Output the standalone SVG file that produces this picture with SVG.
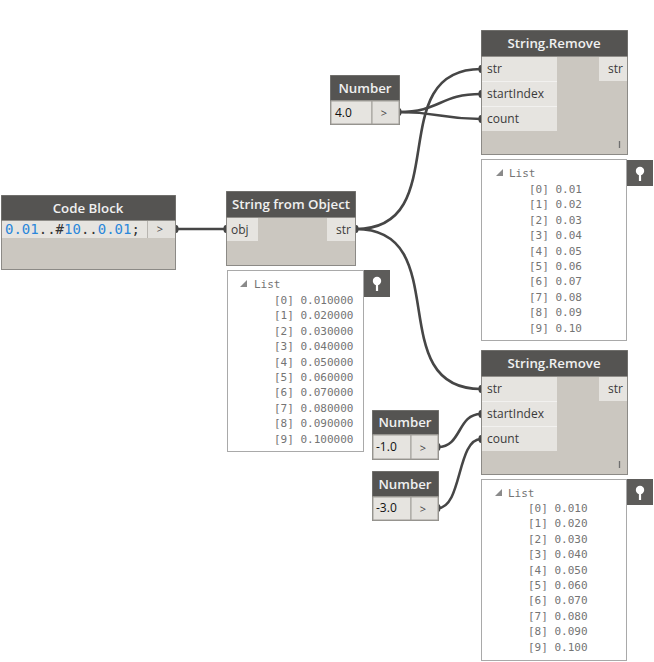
<svg xmlns="http://www.w3.org/2000/svg" width="654" height="662" viewBox="0 0 654 662">
<defs>
<style>
.hdr{fill:#555452;}
.body{fill:#cbc7c0;stroke:#8c8a86;stroke-width:1;}
.port{fill:#e6e4e0;}
.sep{stroke:#f2f1ef;stroke-width:1;}
.title{font-family:"Open Sans","Noto Sans",sans-serif;font-weight:600;font-size:13.3px;fill:#f0f0f0;text-anchor:middle;}
.plbl{font-family:"Open Sans","Noto Sans",sans-serif;font-size:12px;fill:#3a3a3a;}
.val{font-family:"Open Sans","Noto Sans",sans-serif;font-size:12px;fill:#111;}
.arr{font-family:"Open Sans","Noto Sans",sans-serif;font-size:11px;fill:#444;text-anchor:middle;}
.wire{fill:none;stroke:#464646;stroke-width:2.6;}
.dot{fill:#464646;}
.list{fill:#ffffff;stroke:#a9a9a9;stroke-width:1;}
.ltxt{font-family:"DejaVu Sans Mono","Liberation Mono",monospace;font-size:11px;fill:#747474;}
.pin{fill:#5d5c5a;}
.code{font-family:"DejaVu Sans Mono","Liberation Mono",monospace;font-size:14px;}
.num{fill:#2b87da;}
.op{fill:#333333;}
.mark{stroke:#6f6f6f;stroke-width:1.3;}
</style>
<g id="pinicon">
<circle cx="0" cy="0" r="4.2" fill="#ffffff"/>
<rect x="-1.1" y="2" width="2.2" height="8" fill="#ffffff"/>
</g>
</defs>

<g id="connectors">
<path class="wire" d="M175,229 L226,229"/>
<path class="wire" d="M356,229 C456,229 381,69 481,69"/>
<path class="wire" d="M356,229 C456,229 381,389 481,389"/>
<path class="wire" d="M399,112 C440,112 440,94 481,94"/>
<path class="wire" d="M399,112 C440,112 440,119 481,119"/>
<path class="wire" d="M438,447 C462,447 457,414 481,414"/>
<path class="wire" d="M438,508 C462,508 457,439 481,439"/>
<ellipse class="dot" cx="176" cy="229" rx="2.6" ry="4"/>
<ellipse class="dot" cx="226" cy="229" rx="2.6" ry="4"/>
<ellipse class="dot" cx="356" cy="229" rx="2.6" ry="4"/>
<ellipse class="dot" cx="481" cy="69" rx="2.6" ry="4"/>
<ellipse class="dot" cx="481" cy="94" rx="2.6" ry="4"/>
<ellipse class="dot" cx="481" cy="119" rx="2.6" ry="4"/>
<ellipse class="dot" cx="399" cy="112" rx="2.6" ry="4"/>
<ellipse class="dot" cx="481" cy="389" rx="2.6" ry="4"/>
<ellipse class="dot" cx="481" cy="414" rx="2.6" ry="4"/>
<ellipse class="dot" cx="481" cy="439" rx="2.6" ry="4"/>
<ellipse class="dot" cx="438" cy="447" rx="2.6" ry="4"/>
<ellipse class="dot" cx="438" cy="508" rx="2.6" ry="4"/>
</g>

<g id="code-block">
<rect class="body" x="1.5" y="195.5" width="174" height="74"/>
<rect class="hdr" x="1.5" y="195.5" width="174" height="25"/>
<text class="title" x="88" y="213">Code Block</text>
<rect class="port" x="2" y="221" width="145" height="17"/>
<rect x="148" y="221" width="27" height="17" fill="#e3e1dd"/>
<line x1="147.5" y1="221" x2="147.5" y2="238" stroke="#b8b5b0"/>
<text class="code" x="5" y="234"><tspan class="num">0.01</tspan><tspan class="op">..#</tspan><tspan class="num">10</tspan><tspan class="op">..</tspan><tspan class="num">0.01</tspan><tspan class="op">;</tspan></text>
<text class="arr" x="160" y="233">&gt;</text>
</g>

<g id="string-from-object">
<rect class="body" x="226.5" y="191.5" width="129" height="74"/>
<rect class="hdr" x="226.5" y="191.5" width="129" height="26"/>
<text class="title" x="291" y="209">String from Object</text>
<rect class="port" x="227" y="218" width="31" height="23"/>
<rect class="port" x="327" y="218" width="28" height="23"/>
<text class="plbl" x="231" y="234">obj</text>
<text class="plbl" x="351" y="234" text-anchor="end">str</text>
</g>

<g id="watch-sfo">
<rect class="list" x="227.5" y="270.5" width="136" height="181"/>
<rect class="pin" x="364" y="270" width="26" height="27"/>
<use href="#pinicon" x="377" y="281"/>
<polygon points="247,280 247,287 240,287" fill="#8a8a8a"/>
<text class="ltxt" x="254" y="288">List</text>
<text class="ltxt" x="274" y="304">[0] 0.010000</text>
<text class="ltxt" x="274" y="319.4">[1] 0.020000</text>
<text class="ltxt" x="274" y="334.8">[2] 0.030000</text>
<text class="ltxt" x="274" y="350.2">[3] 0.040000</text>
<text class="ltxt" x="274" y="365.6">[4] 0.050000</text>
<text class="ltxt" x="274" y="381">[5] 0.060000</text>
<text class="ltxt" x="274" y="396.4">[6] 0.070000</text>
<text class="ltxt" x="274" y="411.8">[7] 0.080000</text>
<text class="ltxt" x="274" y="427.2">[8] 0.090000</text>
<text class="ltxt" x="274" y="442.6">[9] 0.100000</text>
</g>

<g id="number-4">
<rect class="body" x="330.5" y="75.5" width="69" height="49"/>
<rect class="hdr" x="330.5" y="75.5" width="69" height="25"/>
<text class="title" x="365" y="93">Number</text>
<rect x="331" y="101" width="41" height="23" fill="#e6e4e0" stroke="#a09d98" stroke-width="1"/>
<rect x="372" y="101" width="27" height="23" fill="#e3e1dd" stroke="#a09d98" stroke-width="1"/>
<text class="val" x="335" y="117">4.0</text>
<text class="arr" x="384" y="117">&gt;</text>
</g>

<g id="string-remove-1">
<rect class="body" x="481.5" y="30.5" width="146" height="124"/>
<rect class="hdr" x="481.5" y="30.5" width="146" height="26"/>
<text class="title" x="554" y="48">String.Remove</text>
<rect class="port" x="482" y="57" width="75" height="74"/>
<line class="sep" x1="482" y1="81.5" x2="557" y2="81.5"/>
<line class="sep" x1="482" y1="106.5" x2="557" y2="106.5"/>
<rect class="port" x="599" y="57" width="28" height="24"/>
<text class="plbl" x="487" y="73">str</text>
<text class="plbl" x="487" y="98">startIndex</text>
<text class="plbl" x="487" y="123">count</text>
<text class="plbl" x="623" y="73" text-anchor="end">str</text>
<line class="mark" x1="619.5" y1="141" x2="619.5" y2="148"/>
</g>

<g id="watch-sr1">
<rect class="list" x="481.5" y="159.5" width="145" height="181"/>
<rect class="pin" x="627" y="160" width="26" height="26"/>
<use href="#pinicon" x="640" y="171"/>
<polygon points="503,169 503,176 496,176" fill="#8a8a8a"/>
<text class="ltxt" x="509" y="177">List</text>
<text class="ltxt" x="529" y="193">[0] 0.01</text>
<text class="ltxt" x="529" y="208.4">[1] 0.02</text>
<text class="ltxt" x="529" y="223.8">[2] 0.03</text>
<text class="ltxt" x="529" y="239.2">[3] 0.04</text>
<text class="ltxt" x="529" y="254.6">[4] 0.05</text>
<text class="ltxt" x="529" y="270">[5] 0.06</text>
<text class="ltxt" x="529" y="285.4">[6] 0.07</text>
<text class="ltxt" x="529" y="300.8">[7] 0.08</text>
<text class="ltxt" x="529" y="316.2">[8] 0.09</text>
<text class="ltxt" x="529" y="331.6">[9] 0.10</text>
</g>

<g id="string-remove-2">
<rect class="body" x="481.5" y="350.5" width="146" height="124"/>
<rect class="hdr" x="481.5" y="350.5" width="146" height="26"/>
<text class="title" x="554" y="368">String.Remove</text>
<rect class="port" x="482" y="377" width="75" height="74"/>
<line class="sep" x1="482" y1="401.5" x2="557" y2="401.5"/>
<line class="sep" x1="482" y1="426.5" x2="557" y2="426.5"/>
<rect class="port" x="599" y="377" width="28" height="24"/>
<text class="plbl" x="487" y="393">str</text>
<text class="plbl" x="487" y="418">startIndex</text>
<text class="plbl" x="487" y="443">count</text>
<text class="plbl" x="623" y="393" text-anchor="end">str</text>
<line class="mark" x1="619.5" y1="461" x2="619.5" y2="468"/>
</g>

<g id="number-neg1">
<rect class="body" x="372.5" y="410.5" width="66" height="49"/>
<rect class="hdr" x="372.5" y="410.5" width="66" height="24"/>
<text class="title" x="405" y="427">Number</text>
<rect x="373" y="435" width="38" height="24" fill="#e6e4e0" stroke="#a09d98" stroke-width="1"/>
<rect x="411" y="435" width="27" height="24" fill="#e3e1dd" stroke="#a09d98" stroke-width="1"/>
<text class="val" x="376" y="451">-1.0</text>
<text class="arr" x="423" y="452">&gt;</text>
</g>

<g id="number-neg3">
<rect class="body" x="372.5" y="471.5" width="66" height="49"/>
<rect class="hdr" x="372.5" y="471.5" width="66" height="25"/>
<text class="title" x="405" y="489">Number</text>
<rect x="373" y="497" width="38" height="23" fill="#e6e4e0" stroke="#a09d98" stroke-width="1"/>
<rect x="411" y="497" width="27" height="23" fill="#e3e1dd" stroke="#a09d98" stroke-width="1"/>
<text class="val" x="376" y="512">-3.0</text>
<text class="arr" x="423" y="513">&gt;</text>
</g>

<g id="watch-sr2">
<rect class="list" x="481.5" y="479.5" width="145" height="181"/>
<rect class="pin" x="627" y="479" width="26" height="26"/>
<use href="#pinicon" x="640" y="490"/>
<polygon points="502,489 502,496 495,496" fill="#8a8a8a"/>
<text class="ltxt" x="508" y="497">List</text>
<text class="ltxt" x="528" y="512">[0] 0.010</text>
<text class="ltxt" x="528" y="527.4">[1] 0.020</text>
<text class="ltxt" x="528" y="542.8">[2] 0.030</text>
<text class="ltxt" x="528" y="558.2">[3] 0.040</text>
<text class="ltxt" x="528" y="573.6">[4] 0.050</text>
<text class="ltxt" x="528" y="589">[5] 0.060</text>
<text class="ltxt" x="528" y="604.4">[6] 0.070</text>
<text class="ltxt" x="528" y="619.8">[7] 0.080</text>
<text class="ltxt" x="528" y="635.2">[8] 0.090</text>
<text class="ltxt" x="528" y="650.6">[9] 0.100</text>
</g>
</svg>
